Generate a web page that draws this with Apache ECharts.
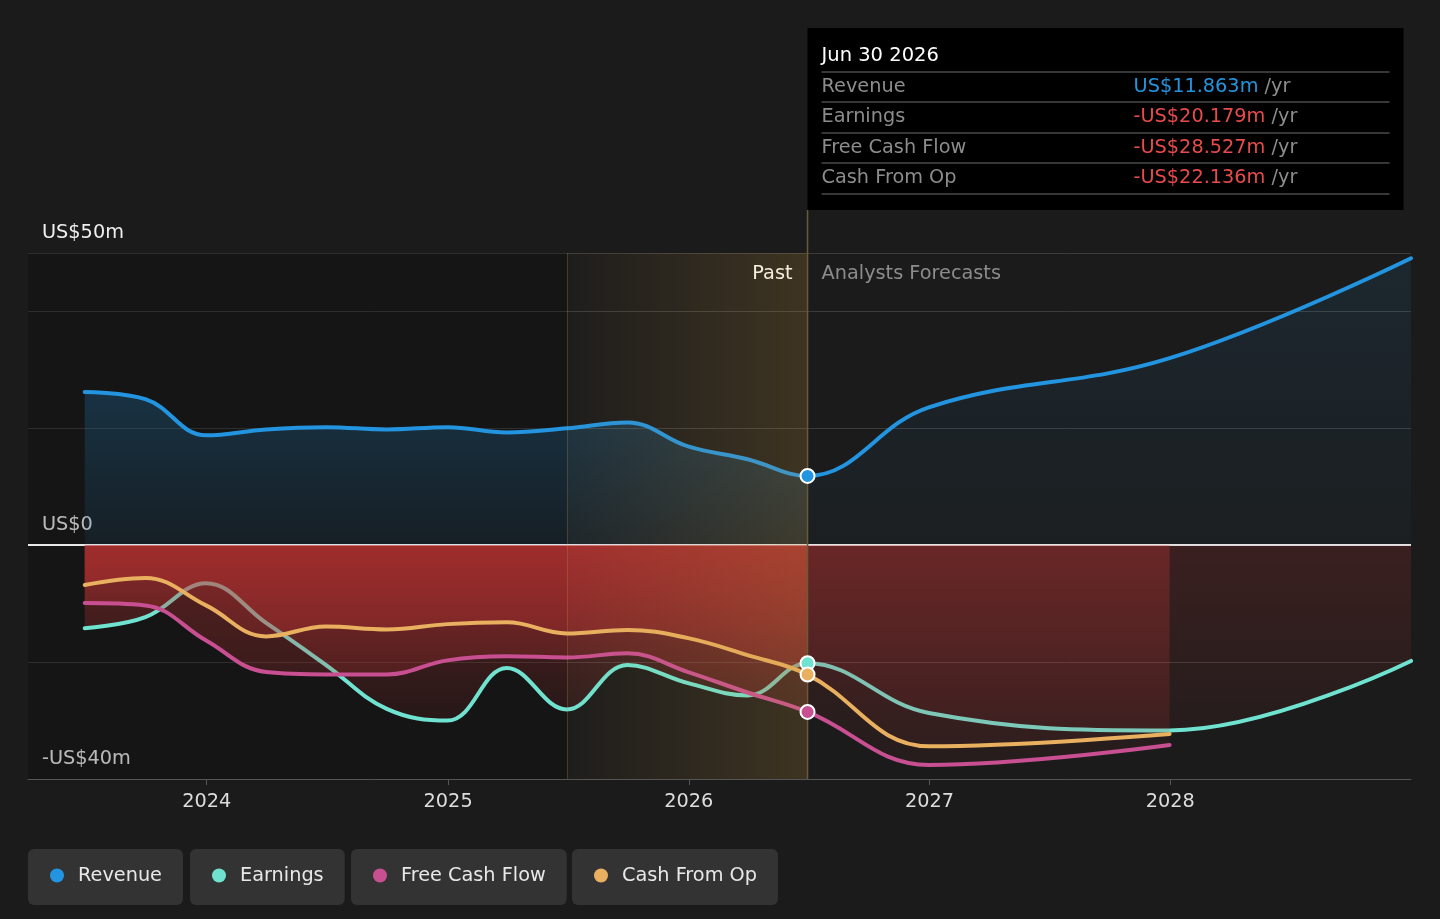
<!DOCTYPE html>
<html lang="en">
<head>
    <meta charset="UTF-8">
    <title>Revenue, Earnings and Cash Flow</title>
    <script src="https://cdn.jsdelivr.net/npm/echarts@6/dist/echarts.min.js"></script>
    <style>
        html, body { margin: 0; padding: 0; background: #1b1b1b; }
        #main { width: 1440px; height: 919px; }
    </style>
</head>
<body>
<div id="main"></div>

<script>
    // quarterly history, then analyst forecasts (US$ m)
    var pastDates = ['2023-06-30', '2023-09-30', '2023-12-31', '2024-03-31', '2024-06-30', '2024-09-30', '2024-12-31',
        '2025-03-31', '2025-06-30', '2025-09-30', '2025-12-31', '2026-03-31', '2026-06-30'];
    var forecastDates = ['2026-06-30', '2026-12-31', '2027-12-31', '2028-12-31'];

    var revenuePast = [26.2, 25.0, 18.8, 19.8, 20.2, 19.8, 20.2, 19.3, 20.0, 21.0, 16.9, 14.7, 11.863];
    var revenueForecast = [11.863, 23.6, 32.0, 49.1];
    var earningsPast = [-14.2, -12.3, -6.5, -13.3, -20.5, -28.0, -30.0, -21.0, -28.1, -20.5, -23.6, -25.7, -20.179];
    var earningsForecast = [-20.179, -28.7, -31.7, -19.8];
    var fcfPast = [-9.9, -10.3, -16.3, -21.7, -22.1, -22.1, -19.7, -19.0, -19.2, -18.5, -21.7, -25.2, -28.527];
    var fcfForecast = [-28.527, -37.6, -34.2];
    var cfoPast = [-6.8, -5.6, -10.3, -15.6, -13.9, -14.4, -13.5, -13.2, -15.1, -14.5, -15.9, -18.8, -22.136];
    var cfoForecast = [-22.136, -34.4, -32.3];

    var names = ['Revenue', 'Earnings', 'Free Cash Flow', 'Cash From Op'];
    var colors = ['#2394df', '#6fe3d0', '#c84f91', '#e9b05f'];
    var yLabels = {'50': 'US$50m', '0': 'US$0', '-40': '-US$40m'};

    var xMin = '2023-04-05', xMax = '2028-12-31';
    var bandStart = '2025-06-30', today = '2026-06-30';
    var months = ['Jan', 'Feb', 'Mar', 'Apr', 'May', 'Jun', 'Jul', 'Aug', 'Sep', 'Oct', 'Nov', 'Dec'];
    var FONT = '19.3px "DejaVu Sans"';
    var GRID = {left: 28, right: 29, top: 253, bottom: 140};

    function zip(dates, vals) {
        return vals.map(function (v, i) { return [dates[i], v]; });
    }

    function full(i) {
        var past = [revenuePast, earningsPast, fcfPast, cfoPast][i];
        var fc = [revenueForecast, earningsForecast, fcfForecast, cfoForecast][i];
        return zip(pastDates, past).concat(zip(forecastDates, fc).slice(1));
    }

    function fill(rgb, a0, a1) {
        return {
            opacity: 1,
            color: new echarts.graphic.LinearGradient(0, 0, 0, 1, [
                {offset: 0, color: 'rgba(' + rgb + ',' + a0 + ')'},
                {offset: 1, color: 'rgba(' + rgb + ',' + a1 + ')'}
            ])
        };
    }

    function marker(name, color, value) {
        return {
            name: name, type: 'scatter', z: 10, silent: true, symbolSize: 14,
            itemStyle: {color: color, borderColor: '#fff', borderWidth: 2, opacity: 1},
            data: [[today, value]]
        };
    }

    var red = '202,52,52', blue = '35,148,223';
    var last = pastDates.length - 1;

    var series = [{
        name: 'bands',
        type: 'line',
        data: [],
        markArea: {
            silent: true, z: 1,
            itemStyle: {color: 'rgba(0,0,0,0.22)'},
            data: [[{xAxis: xMin}, {xAxis: bandStart}]]
        },
        markLine: {
            silent: true, z: 1, symbol: 'none', label: {show: false},
            lineStyle: {color: 'rgba(255,255,255,0.9)', width: 2, type: 'solid'},
            data: [{yAxis: 0}]
        }
    }];
    names.forEach(function (n, i) {
        series.push({
            name: n, type: 'line', data: full(i), smooth: 0.4, symbol: 'none', showSymbol: false,
            z: 2 + i, silent: true,
            itemStyle: {color: colors[i]},
            lineStyle: {color: colors[i], width: 4, cap: 'round'}
        });
    });
    series.push({
        name: 'gold',
        type: 'line',
        data: [],
        markArea: {
            silent: true, z: 6,
            itemStyle: {
                color: new echarts.graphic.LinearGradient(0, 0, 1, 0, [
                    {offset: 0, color: 'rgba(200,150,60,0.02)'},
                    {offset: 1, color: 'rgba(200,150,60,0.2)'}
                ])
            },
            data: [[{xAxis: bandStart}, {xAxis: today}]]
        },
        markLine: {
            silent: true, z: 6, symbol: 'none', label: {show: false},
            lineStyle: {color: 'rgba(200,165,90,0.22)', width: 1, type: 'solid'},
            data: [{xAxis: bandStart}]
        }
    });
    names.forEach(function (n, i) {
        series.push(marker(n, colors[i], full(i)[last][1]));
    });

    var legendLefts = [28, 190, 351, 572];
    var legends = names.map(function (n, i) {
        return {
            data: [n],
            left: legendLefts[i],
            top: 849,
            icon: 'circle',
            itemWidth: 32,
            itemHeight: 14,
            padding: [17, 21, 20, 22],
            backgroundColor: '#333333',
            borderRadius: 6,
            selectedMode: false,
            textStyle: {color: '#e8e8e8', fontSize: 19.3, fontFamily: 'DejaVu Sans'}
        };
    });

    var chart = echarts.init(document.getElementById('main'));
    var option = {
        backgroundColor: '#1b1b1b',
        animation: false,
        textStyle: {fontFamily: 'DejaVu Sans'},
        grid: [GRID],
        legend: legends,
        xAxis: [{
            type: 'time',
            min: xMin,
            max: xMax,
            splitNumber: 5,
            axisLine: {show: true, onZero: false, lineStyle: {color: '#555', width: 1}},
            axisTick: {show: true, length: 6, lineStyle: {color: '#555'}},
            splitLine: {show: false},
            axisLabel: {
                color: '#dddddd',
                fontSize: 19.3,
                margin: 13,
                formatter: function (val) {
                    var d = new Date(val);
                    return (d.getMonth() === 0 && d.getDate() === 1) ? String(d.getFullYear()) : '';
                }
            }
        }],
        yAxis: [{
            type: 'value',
            min: -40,
            max: 50,
            interval: 20,
            axisLine: {show: false},
            axisTick: {show: false},
            splitLine: {lineStyle: {color: '#3c3c3c', width: 1}},
            axisLabel: {
                inside: true,
                margin: 14,
                color: '#eeeeee',
                fontSize: 19.3,
                verticalAlign: 'bottom',
                padding: [0, 0, 11, 0],
                formatter: function (v) { return yLabels[String(v)] || ''; }
            }
        }],
        series: series
    };
    chart.setOption(option);

    var x0 = chart.convertToPixel({xAxisIndex: 0}, today);
    var yTop = chart.convertToPixel({yAxisIndex: 0}, 50);
    var yBottom = chart.convertToPixel({yAxisIndex: 0}, -40);

    // area fills: same curves drawn in two clipped grids (past / forecast) so the opacity steps at "today"
    var hiddenX = {type: 'time', show: false, splitLine: {show: false}};
    var hiddenY = {type: 'value', show: false, min: -40, max: 50, splitLine: {show: false}};
    var grids = [
        GRID,
        {left: GRID.left, width: x0 - GRID.left, top: GRID.top, bottom: GRID.bottom},
        {left: x0, right: GRID.right, top: GRID.top, bottom: GRID.bottom}
    ];
    var xAxes = option.xAxis.concat([
        echarts.util.merge({gridIndex: 1, min: xMin, max: today}, hiddenX),
        echarts.util.merge({gridIndex: 2, min: today, max: xMax}, hiddenX)
    ]);
    var yAxes = option.yAxis.concat([
        echarts.util.merge({gridIndex: 1}, hiddenY),
        echarts.util.merge({gridIndex: 2}, hiddenY)
    ]);
    var pastFills = [fill(blue, 0.36, 0.08), fill(red, 0.38, 0.08), fill(red, 0.38, 0.08), fill(red, 0.38, 0.08)];
    var fcFills = [fill(blue, 0.1, 0.03), fill(red, 0.18, 0.06), fill(red, 0.18, 0.06), fill(red, 0.18, 0.06)];
    var areaSeries = [];
    names.forEach(function (n, i) {
        [[1, pastFills[i]], [2, fcFills[i]]].forEach(function (g) {
            areaSeries.push({
                name: n, type: 'line', data: full(i), smooth: 0.4, symbol: 'none', showSymbol: false,
                xAxisIndex: g[0], yAxisIndex: g[0], clip: true,
                z: 2 + i, silent: true,
                itemStyle: {color: colors[i]},
                lineStyle: {width: 0, opacity: 0},
                areaStyle: g[1]
            });
        });
    });

    // tooltip-like panel
    var d = new Date(today);
    var title = months[d.getMonth()] + ' ' + d.getDate() + ' ' + d.getFullYear();

    function money(v) {
        return (v < 0 ? '-' : '') + 'US$' + Math.abs(v).toFixed(3) + 'm';
    }

    var panel = [
        {type: 'rect', shape: {x: 0, y: 0, width: 596, height: 182}, style: {fill: '#000'}},
        {type: 'text', x: 14, y: 28, style: {text: title, fill: '#fff', font: '19.5px "DejaVu Sans"', verticalAlign: 'middle'}}
    ];
    [44, 74, 105, 135, 166].forEach(function (y) {
        panel.push({type: 'line', shape: {x1: 14, y1: y, x2: 582, y2: y}, style: {stroke: '#4a4a4a', lineWidth: 1.5}});
    });
    names.forEach(function (n, i) {
        var y = 59 + 30.4 * i;
        var v = full(i)[last][1];
        panel.push({type: 'text', x: 14, y: y, style: {text: n, fill: '#8c8c8c', font: FONT, verticalAlign: 'middle'}});
        panel.push({
            type: 'text', x: 326, y: y,
            style: {
                text: '{v|' + money(v) + '}{u| /yr}',
                verticalAlign: 'middle',
                rich: {
                    v: {fill: v < 0 ? '#e84b4b' : colors[0], font: FONT},
                    u: {fill: '#8c8c8c', font: FONT}
                }
            }
        });
    });

    chart.setOption({
        grid: grids,
        xAxis: xAxes,
        yAxis: yAxes,
        series: series.concat(areaSeries),
        graphic: [
            {type: 'line', z: 6, shape: {x1: x0, y1: 210, x2: x0, y2: yBottom}, style: {stroke: '#6b5a3a', lineWidth: 1.5}},
            {type: 'group', x: x0, y: 28, children: panel},
            {type: 'text', x: x0 - 15, y: yTop + 21, style: {text: 'Past', fill: '#ffffff', font: FONT, align: 'right', verticalAlign: 'middle'}},
            {type: 'text', x: x0 + 14, y: yTop + 21, style: {text: 'Analysts Forecasts', fill: '#8c8c8c', font: FONT, align: 'left', verticalAlign: 'middle'}}
        ]
    });
</script>
</body>
</html>
